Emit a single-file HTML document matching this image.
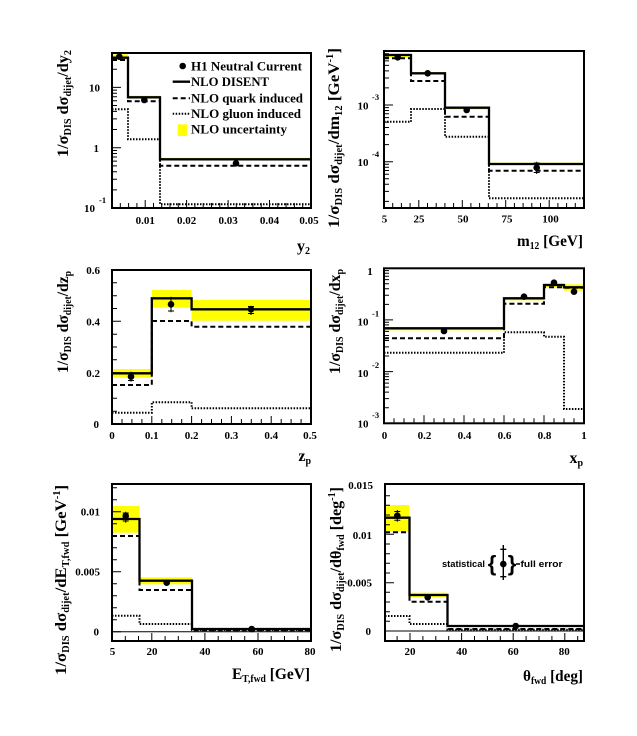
<!DOCTYPE html>
<html><head><meta charset="utf-8"><style>
html,body{margin:0;padding:0;background:#fff;}
svg{display:block;}
text{font-family:"Liberation Serif",serif;font-weight:bold;fill:#000;}
.tl{font-size:11px;}
.sup{font-size:8.5px;}
.ti{font-size:16px;}
.lg{font-size:12.5px;}
.fr{fill:none;stroke:#000;stroke-width:2;}
.tk{fill:none;stroke:#000;stroke-width:1;}
.so{fill:none;stroke:#000;stroke-width:2.3;}
.da{fill:none;stroke:#000;stroke-width:2;stroke-dasharray:5,3;}
.do{fill:none;stroke:#000;stroke-width:2;stroke-dasharray:1.5,1.5;}
.ye{fill:#ffff00;stroke:none;}
.eb{fill:none;stroke:#000;stroke-width:1;}
</style></head><body>
<svg width="637" height="736" viewBox="0 0 637 736" xmlns="http://www.w3.org/2000/svg">
<rect x="0" y="0" width="637" height="736" fill="#fff"/>

<!-- ================= PANEL 1 ================= -->
<rect class="ye" x="112" y="54.3" width="16" height="5.7"/>
<rect class="ye" x="128" y="95.7" width="32" height="2.8"/>
<rect class="ye" x="160" y="157.8" width="151" height="2.4"/>
<path class="do" d="M112,109.3 H128 V139.3 H160 V204.3 H311"/>
<path class="da" d="M112,60 H128 V101.3 H160 V165.7 H311"/>
<path class="so" d="M112,57.7 H128 V97.3 H160 V159.3 H311"/>
<circle cx="119.3" cy="56.7" r="3.3"/>
<circle cx="144.3" cy="100" r="3.3"/>
<circle cx="236" cy="163.3" r="3.3"/>
<!-- legend -->
<circle cx="182.7" cy="66" r="3.3"/>
<text class="lg" x="191" y="70.5" textLength="111" lengthAdjust="spacingAndGlyphs">H1 Neutral Current</text>
<line class="so" x1="172.7" y1="81.7" x2="190" y2="81.7"/>
<text class="lg" x="191" y="86" textLength="78" lengthAdjust="spacingAndGlyphs">NLO DISENT</text>
<line class="da" x1="172.7" y1="98.3" x2="190" y2="98.3"/>
<text class="lg" x="191" y="102.5" textLength="112" lengthAdjust="spacingAndGlyphs">NLO quark induced</text>
<line class="do" x1="172.7" y1="113.7" x2="190" y2="113.7"/>
<text class="lg" x="191" y="118" textLength="110" lengthAdjust="spacingAndGlyphs">NLO gluon induced</text>
<rect class="ye" x="177.7" y="124.3" width="9.3" height="11.7"/>
<text class="lg" x="191" y="133.5" textLength="96" lengthAdjust="spacingAndGlyphs">NLO uncertainty</text>
<!-- ticks -->
<path class="tk" d="M112,189.85h5M112,179.23h5M112,171.7h5M112,165.85h5M112,161.08h5M112,157.04h5M112,153.54h5M112,150.46h5M112,147.7h9
M112,129.55h5M112,118.93h5M112,111.4h5M112,105.55h5M112,100.78h5M112,96.74h5M112,93.24h5M112,90.16h5M112,87.4h9
M112,69.25h5M112,58.63h5"/>
<path class="tk" d="M120.3,208v-5M128.6,208v-5M136.9,208v-5M145.2,208v-8M153.5,208v-5M161.7,208v-5M170,208v-5M178.3,208v-5M186.6,208v-8M194.9,208v-5M203.2,208v-5M211.5,208v-5M219.8,208v-5M228.1,208v-8M236.3,208v-5M244.6,208v-5M252.9,208v-5M261.2,208v-5M269.5,208v-8M277.8,208v-5M286.1,208v-5M294.4,208v-5M302.7,208v-5"/>
<rect class="fr" x="112" y="53" width="199" height="155"/>
<text class="tl" x="100" y="91.5" text-anchor="end">10</text>
<text class="tl" x="99" y="152" text-anchor="end">1</text>
<text class="tl" x="95" y="212" text-anchor="end">10</text>
<text class="sup" x="99" y="203">-1</text>
<g class="tl" text-anchor="middle">
<text x="145.2" y="224">0.01</text><text x="186.6" y="224">0.02</text><text x="228.1" y="224">0.03</text><text x="269.5" y="224">0.04</text><text x="309" y="224">0.05</text>
</g>
<text class="ti" x="310" y="251" text-anchor="end">y<tspan font-size="10" dy="3">2</tspan></text>
<text class="ti" transform="translate(68,50) rotate(-90)" text-anchor="end" textLength="107" lengthAdjust="spacingAndGlyphs">1/σ<tspan font-size="10" dy="3">DIS</tspan><tspan dy="-3"> dσ</tspan><tspan font-size="10" dy="3">dijet</tspan><tspan dy="-3">/dy</tspan><tspan font-size="10" dy="3">2</tspan></text>

<!-- ================= PANEL 2 ================= -->
<rect class="ye" x="384" y="53.3" width="27" height="4"/>
<rect class="ye" x="411" y="72.3" width="34" height="2.2"/>
<rect class="ye" x="445" y="107" width="44" height="2.5"/>
<rect class="ye" x="489" y="162.7" width="95" height="2.6"/>
<path class="do" d="M384,121.7 H411 V109 H445 V136.7 H489 V198.3 H584"/>
<path class="da" d="M384,58.3 H411 V81 H445 V116.7 H489 V170.7 H584"/>
<path class="so" d="M384,55 H411 V73.3 H445 V107.7 H489 V164 H584"/>
<circle cx="397.7" cy="57.3" r="3.3"/>
<circle cx="427.7" cy="73.3" r="3.3"/>
<circle cx="466.7" cy="110" r="3.3"/>
<circle cx="536.7" cy="167.7" r="3.3"/>
<path class="eb" d="M536.7,161.7V174M533.7,163h6M533.7,172.5h6"/>
<path class="tk" d="M384,201.33h5M384,191.35h5M384,184.26h5M384,178.77h5M384,174.28h5M384,170.48h5M384,167.2h5M384,164.3h5M384,161.7h9
M384,144.63h5M384,134.65h5M384,127.56h5M384,122.07h5M384,117.58h5M384,113.78h5M384,110.5h5M384,107.6h5M384,105h9
M384,87.93h5M384,77.95h5M384,70.86h5M384,65.37h5M384,60.88h5M384,57.08h5M384,53.8h5"/>
<path class="tk" d="M392.7,208v-5M401.4,208v-5M410.1,208v-5M418.8,208v-8M427.5,208v-5M436.2,208v-5M444.9,208v-5M453.6,208v-5M462.3,208v-8M470.9,208v-5M479.6,208v-5M488.3,208v-5M497,208v-5M505.7,208v-8M514.4,208v-5M523.1,208v-5M531.8,208v-5M540.5,208v-5M549.2,208v-8M557.9,208v-5M566.6,208v-5M575.3,208v-5"/>
<rect class="fr" x="384" y="51" width="200" height="157"/>
<text class="tl" x="363" y="109.5" text-anchor="middle">10</text>
<text class="sup" x="372" y="100">-3</text>
<text class="tl" x="363" y="166" text-anchor="middle">10</text>
<text class="sup" x="372" y="157">-4</text>
<g class="tl" text-anchor="middle">
<text x="384.5" y="222.5">5</text><text x="419" y="222.5">25</text><text x="463" y="222.5">50</text><text x="507" y="222.5">75</text><text x="550.5" y="222.5">100</text>
</g>
<text class="ti" x="583" y="246" text-anchor="end" textLength="66" lengthAdjust="spacingAndGlyphs">m<tspan font-size="10" dy="3">12</tspan><tspan dy="-3"> [GeV]</tspan></text>
<text class="ti" transform="translate(339,48) rotate(-90)" text-anchor="end" textLength="180" lengthAdjust="spacingAndGlyphs">1/σ<tspan font-size="10" dy="3">DIS</tspan><tspan dy="-3"> dσ</tspan><tspan font-size="10" dy="3">dijet</tspan><tspan dy="-3">/dm</tspan><tspan font-size="10" dy="3">12</tspan><tspan dy="-3"> [GeV</tspan><tspan font-size="10" dy="-6">-1</tspan><tspan dy="6">]</tspan></text>

<!-- ================= PANEL 3 ================= -->
<rect class="ye" x="112" y="369" width="39.8" height="8.7"/>
<rect class="ye" x="151.8" y="290" width="39.8" height="17.7"/>
<rect class="ye" x="191.6" y="300" width="119.4" height="20.7"/>
<path class="do" d="M112,412.7 H151.8 V402.3 H191.6 V408.3 H311"/>
<path class="da" d="M112,385 H151.8 V321 H191.6 V326.7 H311"/>
<path class="so" d="M112,373.3 H151.8 V298.3 H191.6 V309.3 H311"/>
<circle cx="131" cy="376.7" r="3.3"/>
<path class="eb" d="M131,371.7V381.7M128,380.5h6"/>
<circle cx="171" cy="304.3" r="3.3"/>
<path class="eb" d="M171,296.7V312.3M168,298h6M168,311h6"/>
<circle cx="251" cy="309.3" r="3.3"/>
<path class="eb" d="M251,305.7V315M248,306.5h6M248,313.5h6"/>
<path class="tk" d="M112,411.2h5M112,398.3h5M112,385.5h5M112,372.7h9M112,359.8h5M112,347h5M112,334.2h5M112,321.3h9M112,308.5h5M112,295.7h5M112,282.8h5"/>
<path class="tk" d="M122,424v-5M131.9,424v-5M141.9,424v-5M151.8,424v-8M161.8,424v-5M171.7,424v-5M181.7,424v-5M191.6,424v-8M201.6,424v-5M211.5,424v-5M221.5,424v-5M231.4,424v-8M241.4,424v-5M251.3,424v-5M261.3,424v-5M271.2,424v-8M281.2,424v-5M291.1,424v-5M301.1,424v-5"/>
<rect class="fr" x="112" y="270" width="199" height="154"/>
<text class="tl" x="100" y="274" text-anchor="end">0.6</text>
<text class="tl" x="100" y="325.5" text-anchor="end">0.4</text>
<text class="tl" x="100" y="377" text-anchor="end">0.2</text>
<text class="tl" x="99" y="428" text-anchor="end">0</text>
<g class="tl" text-anchor="middle">
<text x="112" y="439">0</text><text x="151.8" y="439">0.1</text><text x="191.6" y="439">0.2</text><text x="231.4" y="439">0.3</text><text x="271.2" y="439">0.4</text><text x="310" y="439">0.5</text>
</g>
<text class="ti" x="311" y="461" text-anchor="end">z<tspan font-size="10" dy="3">p</tspan></text>
<text class="ti" transform="translate(68,271) rotate(-90)" text-anchor="end" textLength="102" lengthAdjust="spacingAndGlyphs">1/σ<tspan font-size="10" dy="3">DIS</tspan><tspan dy="-3"> dσ</tspan><tspan font-size="10" dy="3">dijet</tspan><tspan dy="-3">/dz</tspan><tspan font-size="10" dy="3">p</tspan></text>

<!-- ================= PANEL 4 ================= -->
<rect class="ye" x="384" y="327" width="120" height="3.3"/>
<rect class="ye" x="504" y="297" width="40" height="3.3"/>
<rect class="ye" x="544" y="283.3" width="20" height="4"/>
<rect class="ye" x="564" y="284.3" width="20" height="6.4"/>
<path class="do" d="M384,352.7 H504 V332.3 H544 V336.7 H564 V409 H584"/>
<path class="da" d="M384,338.3 H504 V303.7 H544 V287.3 H564 V287.7 H584"/>
<path class="so" d="M384,328.3 H504 V298.3 H544 V285 H564 V287.3 H584"/>
<circle cx="444" cy="331" r="3.3"/>
<circle cx="524" cy="296.7" r="3.3"/>
<circle cx="554" cy="282.7" r="3.3"/>
<circle cx="574" cy="291.7" r="3.3"/>
<path class="tk" d="M384,407.74h5M384,398.63h5M384,392.17h5M384,387.16h5M384,383.07h5M384,379.61h5M384,376.61h5M384,373.97h5M384,371.6h9
M384,356.04h5M384,346.93h5M384,340.47h5M384,335.46h5M384,331.37h5M384,327.91h5M384,324.91h5M384,322.27h5M384,319.9h9
M384,304.34h5M384,295.23h5M384,288.77h5M384,283.76h5M384,279.67h5M384,276.21h5M384,273.21h5M384,270.57h5"/>
<path class="tk" d="M394,423.3v-5M404,423.3v-5M414,423.3v-5M424,423.3v-8M434,423.3v-5M444,423.3v-5M454,423.3v-5M464,423.3v-8M474,423.3v-5M484,423.3v-5M494,423.3v-5M504,423.3v-8M514,423.3v-5M524,423.3v-5M534,423.3v-5M544,423.3v-8M554,423.3v-5M564,423.3v-5M574,423.3v-5"/>
<rect class="fr" x="384" y="268.3" width="200" height="155"/>
<text class="tl" x="370" y="275" text-anchor="middle">1</text>
<text class="tl" x="363" y="325.5" text-anchor="middle">10</text>
<text class="sup" x="372" y="316.5">-1</text>
<text class="tl" x="363" y="377" text-anchor="middle">10</text>
<text class="sup" x="372" y="368">-2</text>
<text class="tl" x="363" y="427.5" text-anchor="middle">10</text>
<text class="sup" x="372" y="418">-3</text>
<g class="tl" text-anchor="middle">
<text x="384.5" y="439">0</text><text x="424.5" y="439">0.2</text><text x="464.5" y="439">0.4</text><text x="504.5" y="439">0.6</text><text x="544.5" y="439">0.8</text><text x="584" y="439">1</text>
</g>
<text class="ti" x="583" y="463" text-anchor="end">x<tspan font-size="10" dy="3">p</tspan></text>
<text class="ti" transform="translate(340,269) rotate(-90)" text-anchor="end" textLength="105" lengthAdjust="spacingAndGlyphs">1/σ<tspan font-size="10" dy="3">DIS</tspan><tspan dy="-3"> dσ</tspan><tspan font-size="10" dy="3">dijet</tspan><tspan dy="-3">/dx</tspan><tspan font-size="10" dy="3">p</tspan></text>

<!-- ================= PANEL 5 ================= -->
<line x1="112" y1="631.7" x2="311" y2="631.7" stroke="#000" stroke-width="1"/>
<rect class="ye" x="112" y="506" width="27.5" height="26.7"/>
<rect class="ye" x="139.5" y="577.3" width="52.5" height="7"/>
<path class="do" d="M112,615.7 H139.5 V624 H192 V630 H311"/>
<path class="da" d="M112,536 H139.5 V590 H192 V630.3 H311"/>
<path class="so" d="M112,519 H139.5 V580.7 H192 V629 H311"/>
<circle cx="125.7" cy="516" r="3.3"/>
<path class="eb" d="M125.7,511.7V522.7M122.7,513h6M122.7,521h6"/>
<circle cx="166.7" cy="582.7" r="3.3"/>
<circle cx="251.7" cy="629" r="3.3"/>
<path class="tk" d="M112,619.7h5M112,607.7h5M112,595.7h5M112,583.7h5M112,571.7h9M112,559.7h5M112,547.7h5M112,535.7h5M112,523.7h5M112,511.7h9M112,499.7h5M112,487.7h5M112,631.7h9"/>
<path class="tk" d="M125.3,641v-5M138.5,641v-5M151.8,641v-8M165.1,641v-5M178.3,641v-5M191.6,641v-5M204.9,641v-8M218.2,641v-5M231.4,641v-5M244.7,641v-5M258,641v-8M271.2,641v-5M284.5,641v-5M297.8,641v-5"/>
<rect class="fr" x="112" y="484" width="199" height="157"/>
<text class="tl" x="100" y="515.7" text-anchor="end">0.01</text>
<text class="tl" x="100" y="575.7" text-anchor="end">0.005</text>
<text class="tl" x="99" y="635.7" text-anchor="end">0</text>
<g class="tl" text-anchor="middle">
<text x="112.5" y="655">5</text><text x="152" y="655">20</text><text x="205" y="655">40</text><text x="258" y="655">60</text><text x="310" y="655">80</text>
</g>
<text class="ti" x="310" y="679" text-anchor="end" textLength="78" lengthAdjust="spacingAndGlyphs">E<tspan font-size="10" dy="3">T,fwd</tspan><tspan dy="-3"> [GeV]</tspan></text>
<text class="ti" transform="translate(66,485) rotate(-90)" text-anchor="end" textLength="190" lengthAdjust="spacingAndGlyphs">1/σ<tspan font-size="10" dy="3">DIS</tspan><tspan dy="-3"> dσ</tspan><tspan font-size="10" dy="3">dijet</tspan><tspan dy="-3">/dE</tspan><tspan font-size="10" dy="3">T,fwd</tspan><tspan dy="-3"> [GeV</tspan><tspan font-size="10" dy="-6">-1</tspan><tspan dy="6">]</tspan></text>

<!-- ================= PANEL 6 ================= -->
<line x1="385" y1="631" x2="584" y2="631" stroke="#000" stroke-width="1"/>
<rect class="ye" x="385" y="505" width="24.5" height="26.7"/>
<rect class="ye" x="409.5" y="592.7" width="38" height="4.6"/>
<path class="do" d="M385,616 H409.5 V624 H447.5 V629.8 H584"/>
<path class="da" d="M385,532.3 H409.5 V601.7 H447.5 V629 H584"/>
<path class="so" d="M385,517.7 H409.5 V595 H447.5 V626 H584"/>
<circle cx="397.3" cy="515.7" r="3.3"/>
<path class="eb" d="M397.3,510V521.7M394.3,511.5h6M394.3,520.3h6"/>
<circle cx="427.7" cy="597.3" r="3.3"/>
<circle cx="515.7" cy="626" r="3.3"/>
<!-- key -->
<text x="463.5" y="567" text-anchor="middle" style="font-family:'Liberation Sans',sans-serif;font-size:9px;font-weight:bold;" textLength="43" lengthAdjust="spacingAndGlyphs">statistical</text>
<text x="492" y="571" text-anchor="middle" style="font-family:'Liberation Sans',sans-serif;font-size:22px;font-weight:bold;">{</text>
<circle cx="503.3" cy="564" r="3.3"/>
<path d="M503.3,545V580M500.3,549.3h6M500.3,576.7h6" fill="none" stroke="#000" stroke-width="1.4"/>
<text x="512" y="571" text-anchor="middle" style="font-family:'Liberation Sans',sans-serif;font-size:22px;font-weight:bold;">}</text>
<line x1="516" y1="564" x2="520" y2="564" stroke="#000" stroke-width="1.5"/>
<text x="520.5" y="567" style="font-family:'Liberation Sans',sans-serif;font-size:9px;font-weight:bold;" textLength="42" lengthAdjust="spacingAndGlyphs">full error</text>
<path class="tk" d="M385,621.3h5M385,611.7h5M385,602h5M385,592.3h5M385,582.7h9M385,573h5M385,563.3h5M385,553.7h5M385,544h5M385,534.3h9M385,524.7h5M385,515h5M385,505.3h5M385,495.7h5M385,631h9"/>
<path class="tk" d="M397.1,641v-5M410,641v-8M422.9,641v-5M435.8,641v-5M448.7,641v-5M461.6,641v-8M474.5,641v-5M487.4,641v-5M500.3,641v-5M513.2,641v-8M526.1,641v-5M539,641v-5M551.9,641v-5M564.8,641v-8M577.7,641v-5"/>
<rect class="fr" x="385" y="484" width="199" height="157"/>
<text class="tl" x="373" y="489" text-anchor="end">0.015</text>
<text class="tl" x="372" y="539" text-anchor="end">0.01</text>
<text class="tl" x="372" y="586.3" text-anchor="end">0.005</text>
<text class="tl" x="371" y="635" text-anchor="end">0</text>
<g class="tl" text-anchor="middle">
<text x="410" y="655">20</text><text x="461.7" y="655">40</text><text x="513.3" y="655">60</text><text x="564.3" y="655">80</text>
</g>
<text class="ti" x="583" y="681" text-anchor="end" textLength="60" lengthAdjust="spacingAndGlyphs">θ<tspan font-size="10" dy="3">fwd</tspan><tspan dy="-3"> [deg]</tspan></text>
<text class="ti" transform="translate(341,487) rotate(-90)" text-anchor="end" textLength="165" lengthAdjust="spacingAndGlyphs">1/σ<tspan font-size="10" dy="3">DIS</tspan><tspan dy="-3"> dσ</tspan><tspan font-size="10" dy="3">dijet</tspan><tspan dy="-3">/dθ</tspan><tspan font-size="10" dy="3">fwd</tspan><tspan dy="-3"> [deg</tspan><tspan font-size="10" dy="-6">-1</tspan><tspan dy="6">]</tspan></text>
</svg>
</body></html>
